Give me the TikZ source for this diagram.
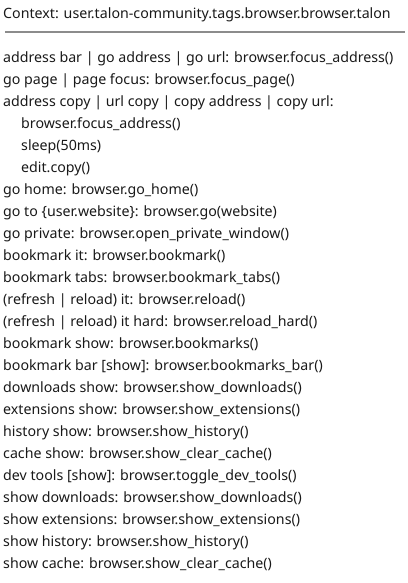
\documentclass[tikz,border=0pt]{standalone}
\usepackage{fontspec}
\setmainfont{Noto Sans}
\begin{document}
\begin{tikzpicture}[x=1pt,y=-1pt,font=\fontsize{14.2}{16}\selectfont]
\tikzset{line/.style={anchor=base west,inner sep=0pt,text=black!90}}
\useasboundingbox(0,0)rectangle(407,583);
\node[line](title)at(3,18.3){Context: user.talon-community.tags.browser.browser.talon};
\draw[black!45,line width=1.6pt](5,32)--(405,32);
\foreach \dx/\txt[count=\i] in {
  0/{address bar | go address | go url: browser.focus\_address()},
  0/{go page | page focus: browser.focus\_page()},
  0/{address copy | url copy | copy address | copy url:},
  18/{browser.focus\_address()},
  18/{sleep(50ms)},
  18/{edit.copy()},
  0/{go home: browser.go\_home()},
  0/{go to \{user.website\}: browser.go(website)},
  0/{go private: browser.open\_private\_window()},
  0/{bookmark it: browser.bookmark()},
  0/{bookmark tabs: browser.bookmark\_tabs()},
  0/{(refresh | reload) it: browser.reload()},
  0/{(refresh | reload) it hard: browser.reload\_hard()},
  0/{bookmark show: browser.bookmarks()},
  0/{bookmark bar [show]: browser.bookmarks\_bar()},
  0/{downloads show: browser.show\_downloads()},
  0/{extensions show: browser.show\_extensions()},
  0/{history show: browser.show\_history()},
  0/{cache show: browser.show\_clear\_cache()},
  0/{dev tools [show]: browser.toggle\_dev\_tools()},
  0/{show downloads: browser.show\_downloads()},
  0/{show extensions: browser.show\_extensions()},
  0/{show history: browser.show\_history()},
  0/{show cache: browser.show\_clear\_cache()}}
  \node[line](l\i)at(3+\dx,40.5+22*\i){\txt};
\end{tikzpicture}
\end{document}
